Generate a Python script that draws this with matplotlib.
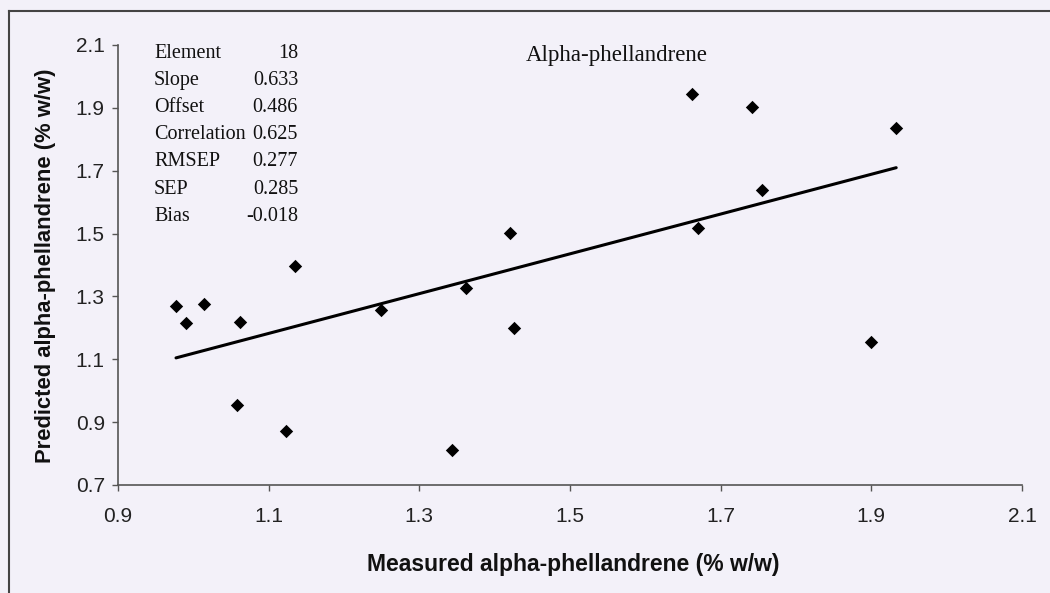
import matplotlib
matplotlib.use("Agg")
import matplotlib.pyplot as plt
import numpy as np

# ---- data ----
measured = [0.977, 0.990, 1.014, 1.062, 1.058, 1.123, 1.135, 1.249, 1.362,
            1.426, 1.344, 1.421, 1.662, 1.741, 1.933, 1.755, 1.670, 1.899]
predicted = [1.270, 1.215, 1.276, 1.219, 0.955, 0.872, 1.397, 1.257, 1.327,
             1.200, 0.811, 1.502, 1.944, 1.903, 1.836, 1.639, 1.518, 1.155]
slope = 0.633
offset = 0.486
stat_names = ["Element", "Slope", "Offset", "Correlation", "RMSEP", "SEP", "Bias"]
stat_values = ["18", "0.633", "0.486", "0.625", "0.277", "0.285", "-0.018"]
x_ticks = [0.9, 1.1, 1.3, 1.5, 1.7, 1.9, 2.1]
y_ticks = [0.7, 0.9, 1.1, 1.3, 1.5, 1.7, 1.9, 2.1]
title = "Alpha-phellandrene"
x_label = "Measured alpha-phellandrene (% w/w)"
y_label = "Predicted alpha-phellandrene (% w/w)"

W, H = 1050, 593
bg = "#f3f1f9"
fig = plt.figure(figsize=(W / 100, H / 100), dpi=100, facecolor=bg)


def fx(px):
    return px / W


def fy(py):
    return 1 - py / H


ax = fig.add_axes([fx(118), fy(485), (1022 - 118) / W, (485 - 45) / H])
ax.set_facecolor(bg)

ax.scatter(measured, predicted, marker="D", s=6.8 ** 2, color="black",
           linewidths=0, zorder=3)
xl = np.array([min(measured), max(measured)])
ax.plot(xl, slope * xl + offset, color="black", lw=2.2, zorder=2,
        solid_capstyle="round")

ax.set_xlim(0.9, 2.1)
ax.set_ylim(0.7, 2.1)
ax.set_xticks(x_ticks)
ax.set_yticks(y_ticks)
ax.set_xticklabels([f"{v:.1f}" for v in x_ticks])
ax.set_yticklabels([f"{v:.1f}" for v in y_ticks])
for s in ["top", "right"]:
    ax.spines[s].set_visible(False)
for s in ["left", "bottom"]:
    ax.spines[s].set_color("#555555")
    ax.spines[s].set_linewidth(1.2)
ax.tick_params(axis="both", direction="out", length=4.5, width=1.0,
               color="#555555", labelsize=15, labelcolor="#222222",
               labelfontfamily="Liberation Sans")
ax.tick_params(axis="x", pad=11)
ax.tick_params(axis="y", pad=5)

# axis labels
fig.text(fx(573), fy(565), x_label, ha="center", va="center",
         fontsize=16.5, fontweight="bold", family="Liberation Sans", color="#111111")
fig.text(fx(46), fy(266), y_label, ha="center", va="center", rotation=90,
         fontsize=15.8, fontweight="bold", family="Liberation Sans", color="#111111")

# title
fig.text(fx(617), fy(55), title, ha="center", va="center",
         fontsize=16.5, family="Liberation Serif", color="#111111")

# stats block
row_y = 53
for name, val in zip(stat_names, stat_values):
    fig.text(fx(154), fy(row_y), name, ha="left", va="center",
             fontsize=14.5, family="Liberation Serif", color="#111111")
    fig.text(fx(298), fy(row_y), val, ha="right", va="center",
             fontsize=14.5, family="Liberation Serif", color="#111111")
    row_y += 27.2

# outer frame (top and left edges visible)
fig.add_artist(plt.Line2D([fx(9), fx(9)], [fy(11), 0], transform=fig.transFigure,
                          color="#444444", lw=1.5))
fig.add_artist(plt.Line2D([fx(9), 1], [fy(11), fy(11)], transform=fig.transFigure,
                          color="#444444", lw=1.5))

fig.savefig("out.png", dpi=100, facecolor=bg)
